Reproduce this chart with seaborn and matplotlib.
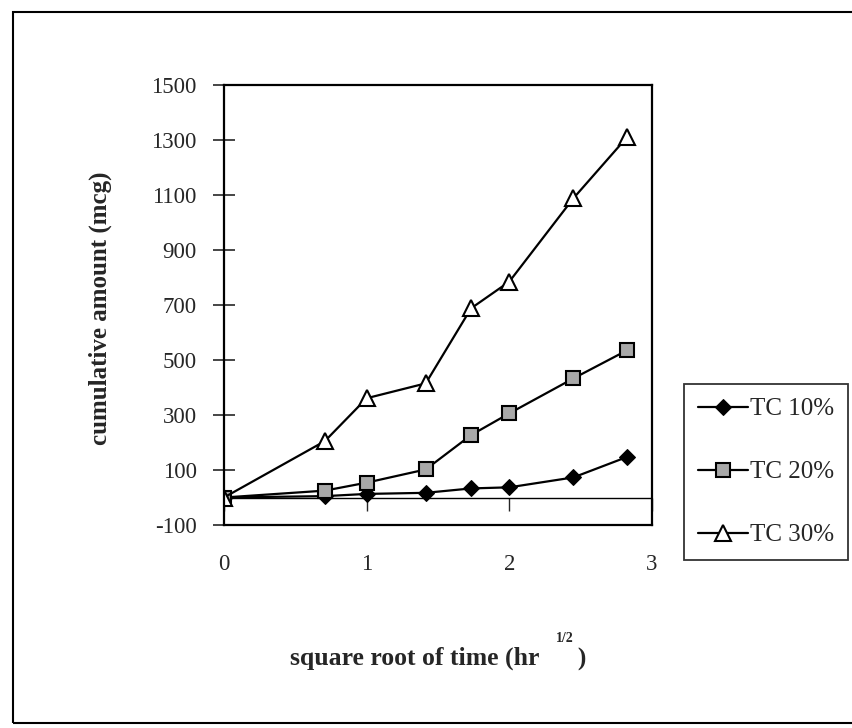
import matplotlib
matplotlib.use("Agg")
import matplotlib.pyplot as plt
from matplotlib.patches import Rectangle
import numpy as np
import pandas as pd
import seaborn as sns

# ---- data ----
sqrt_time = [0, 0.707, 1.0, 1.414, 1.732, 2.0, 2.449, 2.828]
tc10 = [0, 5, 13, 17, 33, 37, 73, 148]
tc20 = [0, 25, 54, 102, 227, 306, 433, 536]
tc30 = [0, 205, 361, 415, 688, 785, 1088, 1312]
series_names = ["TC 10%", "TC 20%", "TC 30%"]
y_ticks = [-100, 100, 300, 500, 700, 900, 1100, 1300, 1500]
x_ticks = [0, 1, 2, 3]
x_label = "square root of time (hr      )"
x_label_sup = "1/2"
y_label = "cumulative amount (mcg)"

sns.set_style("ticks")
plt.rcParams["font.family"] = ["Liberation Serif", "DejaVu Serif"]
plt.rcParams["axes.unicode_minus"] = False

fig = plt.figure(figsize=(8.52, 7.28), dpi=100)
W, H = 852, 728
ax = fig.add_axes([224 / W, 1 - 525 / H, (652 - 224) / W, (525 - 85) / H])

styles = {
    "TC 10%": dict(marker="D", markerfacecolor="black", markeredgecolor="black", markersize=8),
    "TC 20%": dict(marker="s", markerfacecolor="#a8a8a8", markeredgecolor="black", markersize=10, markeredgewidth=1.5),
    "TC 30%": dict(marker="^", markerfacecolor="white", markeredgecolor="black", markersize=11, markeredgewidth=1.5),
}

df = pd.DataFrame({
    "x": sqrt_time * 3,
    "y": tc10 + tc20 + tc30,
    "series": np.repeat(series_names, len(sqrt_time)),
})

for name in series_names:
    sub = df[df["series"] == name]
    sns.lineplot(data=sub, x="x", y="y", ax=ax, color="black", linewidth=1.6,
                 label=name, legend=False, **styles[name])

ymin, ymax = -100, 1500
ax.set_xlim(0, 3)
ax.set_ylim(ymin, ymax)
ax.set_yticks(y_ticks)
ax.set_xticks(x_ticks)
ax.tick_params(axis="y", direction="inout", length=16, width=1.2, labelsize=16.5, pad=11.5)
ax.tick_params(axis="x", length=0, labelsize=16.5, pad=21)
for s in ax.spines.values():
    s.set_linewidth(1.6)
    s.set_color("black")

# zero line with crossing x ticks
ax.axhline(0, color="black", linewidth=1.0, zorder=1)
sec = ax.secondary_xaxis((0 - ymin) / (ymax - ymin))
sec.set_xticks(x_ticks)
sec.xaxis.set_ticks_position("bottom")
sec.tick_params(direction="out", length=9.5, width=1.0, labelbottom=False, labeltop=False)
for s in sec.spines.values():
    s.set_visible(False)

ax.set_xlabel(x_label, fontsize=18.5, fontweight="bold", va="baseline")
ax.xaxis.set_label_coords(0.5, (525 - 665) / 440)
fig.text(565 / W, 1 - 638 / H, x_label_sup, fontsize=10, fontweight="bold",
         ha="center", va="center")
ax.set_ylabel(y_label, fontsize=18, fontweight="bold")
ax.yaxis.set_label_coords(-0.262, 0.492)

handles = [h for h in ax.get_lines() if h.get_label() in series_names]
leg = fig.legend(handles, series_names, loc="upper left",
                 bbox_to_anchor=(684 / W, 1 - 384 / H), frameon=True, fancybox=False,
                 edgecolor="black", fontsize=18, handlelength=2.0, handletextpad=0.1,
                 labelspacing=1.62, borderpad=0.55, borderaxespad=0)
leg.get_frame().set_linewidth(1.3)

# outer frame of the figure
fig.patches.append(Rectangle((13 / W, 1 - 723 / H), (860 - 13) / W, (723 - 12) / H,
                             transform=fig.transFigure, fill=False, edgecolor="black",
                             linewidth=1.5))

fig.savefig("out.png", dpi=100, facecolor="white")
